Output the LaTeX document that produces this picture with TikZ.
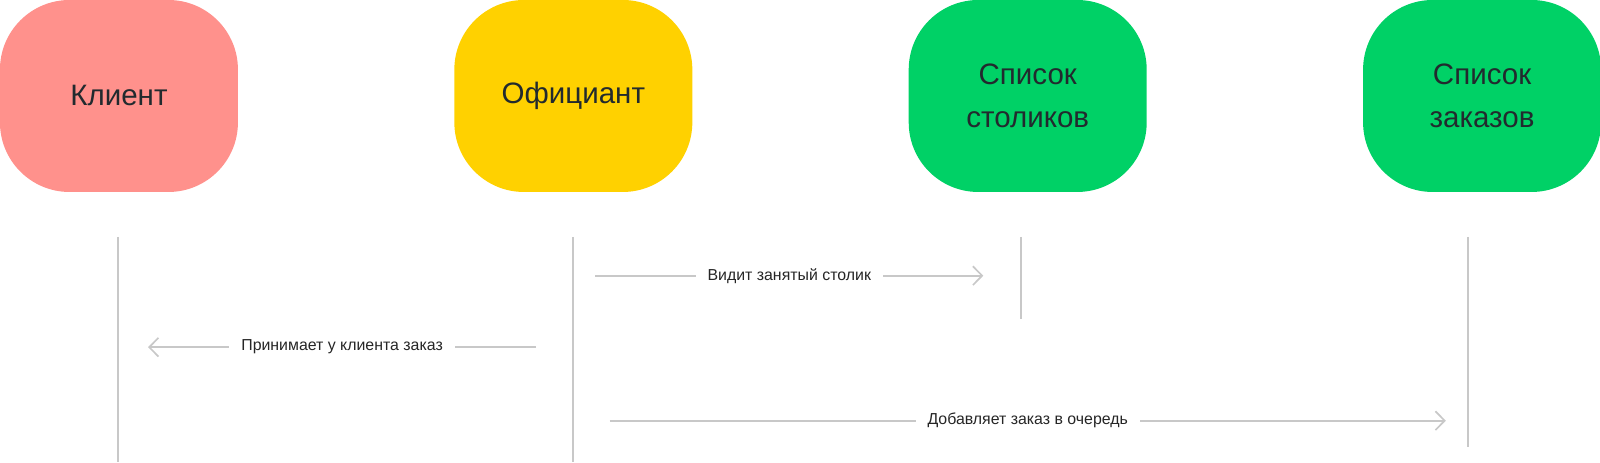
\documentclass[tikz,border=0pt]{standalone}
\usepackage{fontspec}
\setmainfont{Liberation Sans}
\usepackage{tikz}
\usetikzlibrary{arrows.meta}
\definecolor{node_red}{RGB}{255,145,140}
\definecolor{node_yellow}{RGB}{255,209,0}
\definecolor{node_green}{RGB}{0,209,102}
\definecolor{text_dark}{RGB}{34,42,46}
\definecolor{edge_gray}{RGB}{200,200,200}

\begin{document}
\begin{tikzpicture}[x=0.025526cm,y=-0.025526cm,line width=1.4pt]
    \tikzstyle{actor}=[rectangle, rounded corners=1.74cm, minimum width=5.95cm, minimum height=4.8cm, text=text_dark, align=center, font=\fontsize{21}{30.6}\selectfont]
    \tikzstyle{life}=[draw=edge_gray]
    \tikzstyle{msg}=[draw=edge_gray, -{Straight Barb[length=2.3mm,width=4.7mm,line width=1.2pt]}]
    \tikzstyle{lbl}=[fill=white, text=black!85, inner xsep=0.3cm, font=\fontsize{11.3}{13}\selectfont]
    \useasboundingbox (0,0) rectangle (1567,452.5);

    \node[actor,fill=node_red]    (client) at (116.5,94)  {Клиент};
    \node[actor,fill=node_yellow] (waiter) at (561.5,94)  {Официант};
    \node[actor,fill=node_green]  (tables) at (1006.5,94) {Список\\столиков};
    \node[actor,fill=node_green]  (orders) at (1451.5,94) {Список\\заказов};

    % lifelines
    \coordinate (client_t) at (116,232);  \coordinate (client_b) at (116,452);
    \coordinate (waiter_t) at (561,232);  \coordinate (waiter_b) at (561,452);
    \coordinate (tables_t) at (1000,232); \coordinate (tables_b) at (1000,312);
    \coordinate (orders_t) at (1438,232); \coordinate (orders_b) at (1438,438);
    \path
     (client_t) edge[life] (client_b)
     (waiter_t) edge[life] (waiter_b)
     (tables_t) edge[life] (tables_b)
     (orders_t) edge[life] (orders_b)
     ;

    % messages
    \coordinate (m1_a) at (583,270); \coordinate (m1_b) at (963,270);
    \coordinate (m2_a) at (525,340); \coordinate (m2_b) at (145,340);
    \coordinate (m3_a) at (597,412); \coordinate (m3_b) at (1416,412);
    \path
     (m1_a) edge[msg] node[lbl] {Видит занятый столик} (m1_b)
     (m2_a) edge[msg] node[lbl] {Принимает у клиента заказ} (m2_b)
     (m3_a) edge[msg] node[lbl] {Добавляет заказ в очередь} (m3_b)
     ;
\end{tikzpicture}
\end{document}
